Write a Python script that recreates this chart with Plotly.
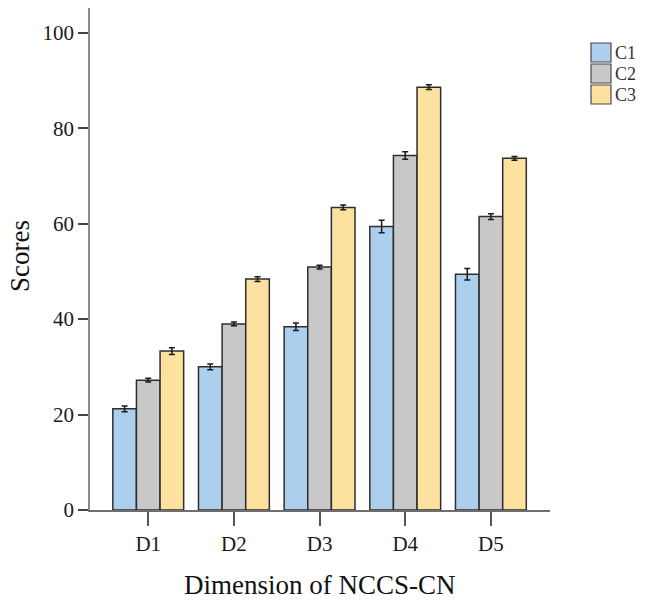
import plotly.graph_objects as go

categories = ["D1", "D2", "D3", "D4", "D5"]
series_names = ["C1", "C2", "C3"]
c1_values = [21.2, 30.0, 38.4, 59.4, 49.4]
c2_values = [27.2, 39.0, 50.9, 74.3, 61.5]
c3_values = [33.3, 48.4, 63.4, 88.6, 73.7]
c1_err = [0.6, 0.6, 0.8, 1.3, 1.2]
c2_err = [0.4, 0.4, 0.4, 0.8, 0.6]
c3_err = [0.7, 0.5, 0.5, 0.5, 0.4]
y_ticks = [0, 20, 40, 60, 80, 100]

colors = ["#abcfed", "#c8c8c8", "#fde19e"]
outline = "#2e2e2e"
font_family = "Liberation Serif"

values = [c1_values, c2_values, c3_values]
errs = [c1_err, c2_err, c3_err]

fig = go.Figure()
for name, vals, err, col in zip(series_names, values, errs, colors):
    fig.add_trace(go.Bar(
        x=categories, y=vals, name=name,
        marker=dict(color=col, line=dict(color=outline, width=1.5)),
        error_y=dict(type="data", array=err, visible=True, color="#1a1a1a", thickness=1.5, width=3),
        showlegend=False,
    ))

# plot area in pixels: x 90..550, y 8..510
L, R, T, B = 90, 550, 8, 510
W, H = 646, 605

def px_x(p):
    return (p - L) / (R - L)

def px_y(p):
    return (B - p) / (B - T)

# manual legend
shapes = []
annotations = []
for i, (name, col) in enumerate(zip(series_names, colors)):
    y0 = 43 + i * 21
    shapes.append(dict(type="rect", xref="paper", yref="paper",
                       x0=px_x(591), x1=px_x(611), y0=px_y(y0 + 19), y1=px_y(y0),
                       fillcolor=col, line=dict(color="#4a4a4a", width=1.2)))
    annotations.append(dict(text=name, xref="paper", yref="paper",
                            x=px_x(613), y=px_y(y0 + 10), xanchor="left", yanchor="middle",
                            showarrow=False, font=dict(family=font_family, size=18, color="#333333")))

annotations.append(dict(text="Scores", xref="paper", yref="paper",
                        x=px_x(20), y=px_y(256), textangle=-90,
                        xanchor="center", yanchor="middle", showarrow=False,
                        font=dict(family=font_family, size=27, color="#111111")))
annotations.append(dict(text="Dimension of NCCS-CN", xref="paper", yref="paper",
                        x=0.5, y=px_y(585), xanchor="center", yanchor="middle",
                        showarrow=False,
                        font=dict(family=font_family, size=27, color="#111111")))

fig.update_layout(
    width=W, height=H,
    margin=dict(l=L, r=W - R, t=T, b=H - B),
    paper_bgcolor="white", plot_bgcolor="white",
    barmode="group", bargap=0.173, bargroupgap=0,
    shapes=shapes, annotations=annotations,
    font=dict(family=font_family, size=21, color="#1a1a1a"),
)
fig.update_xaxes(
    range=[-0.68, 4.69], showgrid=False, zeroline=False,
    showline=True, linecolor="#6e6e6e", linewidth=1.5,
    ticks="outside", ticklen=14, tickwidth=1.5, tickcolor="#555555",
    tickfont=dict(family=font_family, size=21, color="#1a1a1a"),
)
fig.update_yaxes(
    range=[0, 105.2], showgrid=False, zeroline=False,
    showline=True, linecolor="#8a8a8a", linewidth=1.5,
    tickvals=y_ticks, ticks="outside", ticklen=10, tickwidth=1.5, tickcolor="#444444",
    tickfont=dict(family=font_family, size=21, color="#1a1a1a"),
)

fig.write_html("out.html")
